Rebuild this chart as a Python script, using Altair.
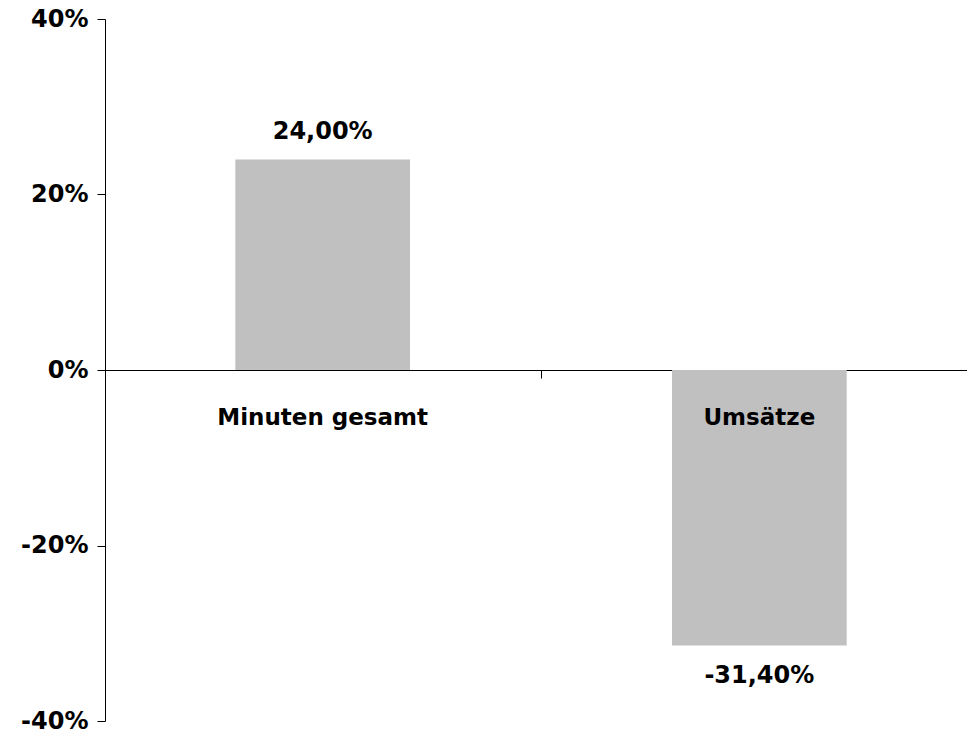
import altair as alt
import pandas as pd

categories = ["Minuten gesamt", "Umsätze"]
values = [0.24, -0.314]
labels = ["24,00%", "-31,40%"]
y_ticks = [-0.4, -0.2, 0.0, 0.2, 0.4]

df = pd.DataFrame({"cat": categories, "value": values, "label": labels})

FONT = "DejaVu Sans"
FS_NUM = 24
FS_CAT = 23
W, H = 862, 702

xscale = alt.Scale(domain=categories, paddingInner=0.6, paddingOuter=0.287, align=0.52)
yscale = alt.Scale(domain=[-0.4, 0.4], nice=False)

base = alt.Chart(df)

bars = base.mark_bar(color="#c0c0c0").encode(
    x=alt.X("cat:N", scale=xscale, sort=categories,
            axis=alt.Axis(title=None, labels=False, values=["Umsätze"],
                          bandPosition=-0.75, tickSize=8,
                          tickColor="black", domainColor="black", offset=-H / 2,
                          domainWidth=1, tickWidth=1, grid=False)),
    y=alt.Y("value:Q", scale=yscale,
            axis=alt.Axis(title=None, values=y_ticks, tickSize=8,
                          labelExpr="(datum.value < 0 ? '-' : '') + format(abs(datum.value) * 100, '.0f') + '%'",
                          tickColor="black", domainColor="black", grid=False,
                          labelFont=FONT, labelFontSize=FS_NUM, labelFontWeight="bold",
                          labelColor="black", labelPadding=9)),
)

pos_lbl = base.transform_filter("datum.value >= 0").mark_text(
    font=FONT, fontSize=FS_NUM, fontWeight="bold", color="black", dy=-27
).encode(x=alt.X("cat:N", scale=xscale, sort=categories),
         y=alt.Y("value:Q", scale=yscale), text="label:N")

neg_lbl = base.transform_filter("datum.value < 0").mark_text(
    font=FONT, fontSize=FS_NUM, fontWeight="bold", color="black", dy=30
).encode(x=alt.X("cat:N", scale=xscale, sort=categories),
         y=alt.Y("value:Q", scale=yscale), text="label:N")

cat_lbl = base.mark_text(
    font=FONT, fontSize=FS_CAT, fontWeight="bold", color="black", dy=48
).encode(x=alt.X("cat:N", scale=xscale, sort=categories),
         y=alt.datum(0), text="cat:N")

chart = alt.layer(bars, pos_lbl, neg_lbl, cat_lbl).properties(
    width=W, height=H,
    background="white",
    autosize=alt.AutoSizeParams(type="none"),
    padding={"left": 105, "top": 19, "right": 0, "bottom": 12},
).configure_view(strokeWidth=0).configure_axis(grid=False)

chart.save("out.html", embed_options={"renderer": "svg", "actions": False})
